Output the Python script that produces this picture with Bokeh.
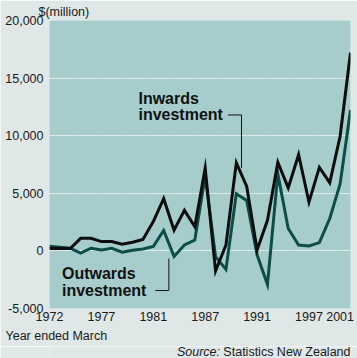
from bokeh.plotting import figure
from bokeh.layouts import column
from bokeh.models import Range1d, FixedTicker, Label, Title
from bokeh.embed import file_html
from bokeh.resources import INLINE

# ---- data (year ended March, $million) ----
years = list(range(1972, 2002))
inwards = [200, 230, 200, 1090, 1090, 810, 810, 575, 750, 1000,
           2550, 4530, 1800, 3520, 2100, 7190, -1750, 515, 7650, 5600,
           80, 2660, 7680, 5470, 8350, 4240, 7250, 5920, 9950, 17200]
outwards = [400, 320, 230, -200, 230, 86, 230, -110, 60, 170,
            380, 1780, -480, 515, 945, 6500, -500, -1600, 4960, 4380,
            -340, -2920, 6680, 1950, 515, 430, 720, 2810, 5820, 12240]

ytick_values = [-5000, 0, 5000, 10000, 15000, 20000]
ytick_labels = ["-5,000", "0", "5,000", "10,000", "15,000", "20,000"]
ygrid_values = [0, 5000, 10000, 15000]
xtick_values = [1972, 1977, 1982, 1987, 1992, 1997, 2000]
xtick_labels = ["1972", "1977", "1981", "1987", "1991", "1997", "2001"]

# annotation anchors (data coords)
in_label_pos = (1980.57, 13250, 11800)
in_leader_x = [1989.2, 1990.5, 1990.5]
in_leader_y = [11800, 11800, 7200]
out_label_pos = (1973.2, -2000, -3440)
out_leader_x = [1982.2, 1983.5, 1983.5]
out_leader_y = [-3440, -3440, -660]

OUTER = "#dfe7e7"
PLOT_BG = "#a6cdcb"
TEAL = "#0c4d48"
FONT = "Liberation Sans"
TXT = "#1a1a1a"

W = 357
FOOT_H = 12
MAIN_H = 358 - FOOT_H

p = figure(width=W, height=MAIN_H,
           x_range=Range1d(1972, 2001), y_range=Range1d(-5000, 20000),
           output_backend="svg", toolbar_location=None,
           min_border_left=49, min_border_right=7,
           min_border_top=20, min_border_bottom=MAIN_H - 308)
p.border_fill_color = OUTER
p.background_fill_color = PLOT_BG
p.outline_line_color = None

p.title = Title(text="$(million)", align="left", offset=-11, standoff=4,
                text_font=FONT, text_font_size="12.5px",
                text_font_style="normal", text_color=TXT)
p.add_layout(Title(text="Year ended March", align="left", offset=-44, standoff=6,
                   text_font=FONT, text_font_size="12.5px",
                   text_font_style="normal", text_color=TXT), "below")

# axes
p.yaxis.ticker = FixedTicker(ticks=ytick_values)
p.yaxis.major_label_overrides = {v: s for v, s in zip(ytick_values, ytick_labels)}
p.xaxis.ticker = FixedTicker(ticks=xtick_values)
p.xaxis.major_label_overrides = {v: s for v, s in zip(xtick_values, xtick_labels)}
for ax in (p.xaxis, p.yaxis):
    ax.axis_line_color = None
    ax.major_tick_line_color = None
    ax.minor_tick_line_color = None
    ax.major_tick_out = 0
    ax.major_tick_in = 0
    ax.major_label_text_font = FONT
    ax.major_label_text_font_size = "12.5px"
    ax.major_label_text_color = TXT
p.yaxis.major_label_standoff = 6
p.xaxis.major_label_standoff = 3

p.xgrid.grid_line_color = None
p.ygrid.ticker = FixedTicker(ticks=ygrid_values)
p.ygrid.grid_line_color = "white"
p.ygrid.grid_line_dash = "2 1"
p.ygrid.grid_line_width = 1
p.ygrid.grid_line_alpha = 0.9

# series
p.line(years, outwards, line_color=TEAL, line_width=3, line_join="miter")
p.line(years, inwards, line_color="#0d0d0d", line_width=3, line_join="miter")

# leader lines
p.line(in_leader_x, in_leader_y, line_color="#111111", line_width=1)
p.line(out_leader_x, out_leader_y, line_color="#111111", line_width=1)


def lab(fig, x, y, text, size="16px", style="bold", align="left", color="#111111"):
    fig.add_layout(Label(x=x, y=y, text=text,
                         text_font=FONT, text_font_size=size, text_font_style=style,
                         text_align=align, text_baseline="middle", text_color=color))


lab(p, in_label_pos[0], in_label_pos[1], "Inwards")
lab(p, in_label_pos[0], in_label_pos[2], "investment")
lab(p, out_label_pos[0], out_label_pos[1], "Outwards")
lab(p, out_label_pos[0], out_label_pos[2], "investment")

# footer: source line (frame aligned with the main frame, pixel-like x)
f = figure(width=W, height=FOOT_H, x_range=Range1d(49, 350), y_range=Range1d(0, FOOT_H),
           output_backend="svg", toolbar_location=None,
           x_axis_location=None, y_axis_location=None,
           min_border_left=49, min_border_right=7, min_border_top=0, min_border_bottom=0)
f.border_fill_color = OUTER
f.background_fill_color = OUTER
f.outline_line_color = None
f.xgrid.grid_line_color = None
f.ygrid.grid_line_color = None

lab(f, 350, 6.3, "Statistics New Zealand", size="12.5px", style="normal", align="right", color=TXT)
lab(f, 219.5, 6.3, "Source:", size="12.5px", style="italic", align="right", color=TXT)

layout = column(p, f, spacing=0)
open("out.html", "w").write(file_html(layout, INLINE))
